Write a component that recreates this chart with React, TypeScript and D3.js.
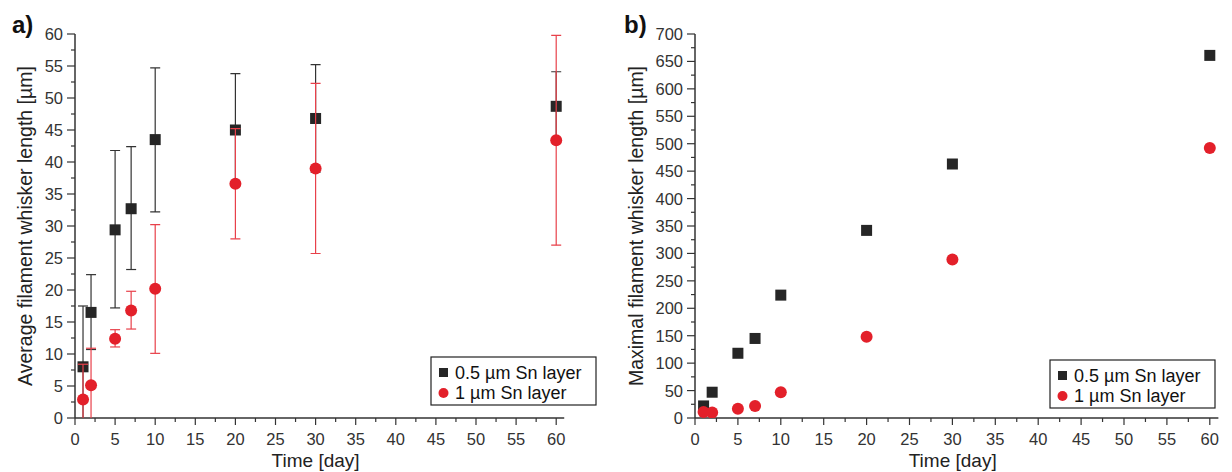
import React from "react";
import * as d3 from "d3";

const days = [1, 2, 5, 7, 10, 20, 30, 60];
// Average length (panel a)
const avgThin = [8.0, 16.5, 29.4, 32.7, 43.5, 45.0, 46.8, 48.7];
const avgThinErrLow = [-1.5, 10.7, 17.2, 23.2, 32.2, 36.3, 38.4, 43.3];
const avgThinErrHigh = [17.5, 22.4, 41.8, 42.4, 54.7, 53.8, 55.2, 54.1];
const avgThick = [2.9, 5.1, 12.4, 16.8, 20.2, 36.6, 39.0, 43.4];
const avgThickErrLow = [-2.6, -0.7, 11.1, 13.9, 10.1, 28.0, 25.7, 27.0];
const avgThickErrHigh = [8.4, 10.9, 13.8, 19.8, 30.2, 45.2, 52.3, 59.8];
// Maximal length (panel b)
const maxThin = [22, 47, 118, 145, 224, 342, 463, 661];
const maxThick = [11, 10, 17, 22, 47, 148, 289, 492];

const xTicks = d3.range(0, 61, 5);
const yTicksA = d3.range(0, 61, 5);
const yTicksB = d3.range(0, 701, 50);
const legendLabels = ["0.5 µm Sn layer", "1 µm Sn layer"];

const BLACK = "#262626";
const RED = "#e3202a";
const RED_BAR = "#e8404a";
const AXIS = "#333333";
const FONT = "'Liberation Sans', Arial, sans-serif";

type Series = { y: number[]; lo?: number[]; hi?: number[]; shape: "square" | "circle"; color: string; bar: string };

function Panel(props: {
  id: string;
  x0: number;
  x1: number;
  yTop: number;
  yBot: number;
  yMax: number;
  yTicks: number[];
  yMinorStep: number;
  series: Series[];
  label: string;
  yTitle: string;
  yTitleX: number;
  legend: { x: number; y: number; w: number; h: number };
}) {
  const { id, x0, x1, yTop, yBot, yMax, yTicks, yMinorStep, series, label, yTitle, yTitleX, legend } = props;
  const x = d3.scaleLinear().domain([0, 61]).range([x0, x1]);
  const y = d3.scaleLinear().domain([0, yMax]).range([yBot, yTop]);
  const xMinor = d3.range(2.5, 61, 5);
  const yMinor = d3.range(yMinorStep, yMax, yMinorStep * 2);
  const clipId = "clip-" + id;
  return (
    <g>
      <defs>
        <clipPath id={clipId}>
          <rect x={x0} y={yTop - 20} width={x1 - x0 + 10} height={yBot - yTop + 20} />
        </clipPath>
      </defs>
      {/* axes */}
      <line x1={x0} x2={x0} y1={yTop} y2={yBot} stroke={AXIS} strokeWidth={1.5} />
      <line x1={x0} x2={x1} y1={yBot} y2={yBot} stroke={AXIS} strokeWidth={1.5} />
      {xTicks.map((t) => (
        <g key={"xt" + t}>
          <line x1={x(t)} x2={x(t)} y1={yBot} y2={yBot + 7} stroke={AXIS} strokeWidth={1.2} />
          <text x={x(t)} y={yBot + 26.5} textAnchor="middle" fontSize={16.5} fill={AXIS} fontFamily={FONT}>
            {t}
          </text>
        </g>
      ))}
      {xMinor.map((t) => (
        <line key={"xm" + t} x1={x(t)} x2={x(t)} y1={yBot} y2={yBot + 4} stroke={AXIS} strokeWidth={1.2} />
      ))}
      {yTicks.map((t) => (
        <g key={"yt" + t}>
          <line x1={x0 - 8} x2={x0} y1={y(t)} y2={y(t)} stroke={AXIS} strokeWidth={1.2} />
          <text x={x0 - 12} y={y(t) + 6} textAnchor="end" fontSize={16.5} fill={AXIS} fontFamily={FONT}>
            {t}
          </text>
        </g>
      ))}
      {yMinor.map((t) => (
        <line key={"ym" + t} x1={x0 - 4} x2={x0} y1={y(t)} y2={y(t)} stroke={AXIS} strokeWidth={1.2} />
      ))}
      {/* titles */}
      <text x={(x0 + x1) / 2 - 4} y={467} textAnchor="middle" fontSize={19} fill="#222" fontFamily={FONT}>
        Time [day]
      </text>
      <text
        transform={`translate(${yTitleX},${(yTop + yBot) / 2}) rotate(-90)`}
        textAnchor="middle"
        fontSize={19.5}
        fill="#222"
        fontFamily={FONT}
      >
        {yTitle}
      </text>
      <text x={id === "a" ? 12 : 624} y={33} fontSize={24} fontWeight="bold" fill="#111" fontFamily={FONT}>
        {label}
      </text>
      {/* data */}
      <g clipPath={`url(#${clipId})`}>
        {series.map((s, si) => (
          <g key={"s" + si}>
            {s.lo &&
              s.hi &&
              days.map((d, i) => (
                <g key={"e" + i} stroke={s.bar} strokeWidth={1.2}>
                  <line x1={x(d)} x2={x(d)} y1={y(s.lo![i])} y2={y(s.hi![i])} />
                  <line x1={x(d) - 5} x2={x(d) + 5} y1={y(s.lo![i])} y2={y(s.lo![i])} />
                  <line x1={x(d) - 5} x2={x(d) + 5} y1={y(s.hi![i])} y2={y(s.hi![i])} />
                </g>
              ))}
            {days.map((d, i) =>
              s.shape === "square" ? (
                <rect key={"m" + i} x={x(d) - 5.5} y={y(s.y[i]) - 5.5} width={11} height={11} fill={s.color} />
              ) : (
                <circle key={"m" + i} cx={x(d)} cy={y(s.y[i])} r={6} fill={s.color} />
              )
            )}
          </g>
        ))}
      </g>
      {/* legend */}
      <rect x={legend.x} y={legend.y} width={legend.w} height={legend.h} fill="white" stroke="#222" strokeWidth={1.2} />
      <rect x={legend.x + 8} y={legend.y + 11} width={9} height={9} fill={BLACK} />
      <text x={legend.x + 24} y={legend.y + 22} fontSize={18} fill="#111" fontFamily={FONT}>
        {legendLabels[0]}
      </text>
      <circle cx={legend.x + 12.5} cy={legend.y + 36} r={5} fill={RED} />
      <text x={legend.x + 24} y={legend.y + 42} fontSize={18} fill="#111" fontFamily={FONT}>
        {legendLabels[1]}
      </text>
    </g>
  );
}

export default function App() {
  const seriesA: Series[] = [
    { y: avgThin, lo: avgThinErrLow, hi: avgThinErrHigh, shape: "square", color: BLACK, bar: "#333" },
    { y: avgThick, lo: avgThickErrLow, hi: avgThickErrHigh, shape: "circle", color: RED, bar: RED_BAR },
  ];
  const seriesB: Series[] = [
    { y: maxThin, shape: "square", color: BLACK, bar: "#333" },
    { y: maxThick, shape: "circle", color: RED, bar: RED_BAR },
  ];
  return (
    <svg
      width={1232}
      height={472}
      style={{ position: "absolute", left: 0, top: 0, background: "white" }}
      xmlns="http://www.w3.org/2000/svg"
    >
      <rect width={1232} height={472} fill="white" />
      <Panel
        id="a"
        x0={75}
        x1={75 + 61 * 8.02}
        yTop={34}
        yBot={418}
        yMax={60}
        yTicks={yTicksA}
        yMinorStep={2.5}
        series={seriesA}
        label="a)"
        yTitle="Average filament whisker length [µm]"
        yTitleX={32}
        legend={{ x: 431, y: 357, w: 165, h: 48 }}
      />
      <Panel
        id="b"
        x0={695}
        x1={695 + 61 * 8.58}
        yTop={34}
        yBot={418}
        yMax={700}
        yTicks={yTicksB}
        yMinorStep={25}
        series={seriesB}
        label="b)"
        yTitle="Maximal filament whisker length [µm]"
        yTitleX={643}
        legend={{ x: 1050, y: 360, w: 165, h: 48 }}
      />
    </svg>
  );
}
